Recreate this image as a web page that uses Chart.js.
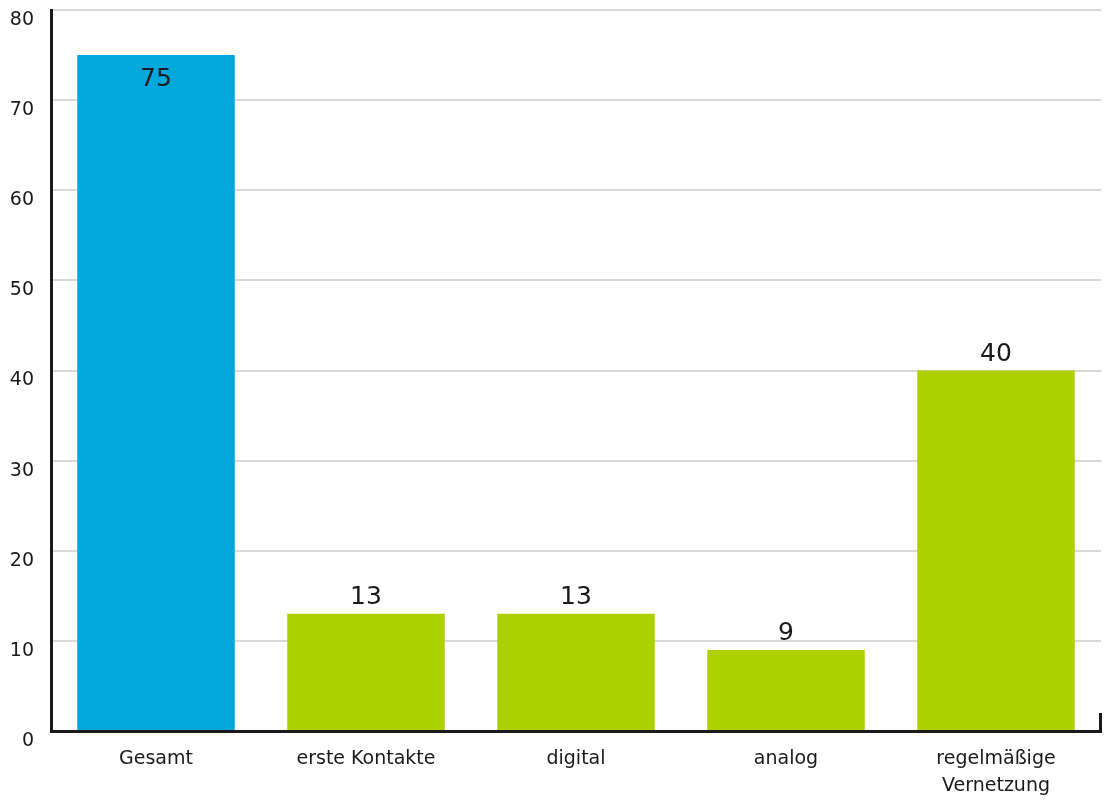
<!DOCTYPE html>
<html lang="de">
<head>
    <meta charset="UTF-8">
    <title>Vernetzung</title>
    <script src="https://cdn.jsdelivr.net/npm/chart.js@4.4.1/dist/chart.umd.min.js"></script>
    <style>
        html, body { margin: 0; padding: 0; background: #fff; }
        .wrap { width: 1106px; height: 804px; position: relative; }
    </style>
</head>
<body>
<div class="wrap">
    <canvas id="chart"></canvas>
</div>
<script>
    const categories = ['Gesamt', 'erste Kontakte', 'digital', 'analog', ['regelmäßige', 'Vernetzung']];
    const values = [75, 13, 13, 9, 40];
    const barColors = ['#00a8dc', '#acd000', '#acd000', '#acd000', '#acd000'];
    const yMax = 80;
    const yStep = 10;

    const textColor = '#1a1a1a';
    const axisFont = { family: 'DejaVu Sans', size: 19, lineHeight: 1.4 };

    // value labels above the bar, or inside when the bar almost reaches the top
    const valueLabels = {
        id: 'valueLabels',
        afterDatasetsDraw(chart) {
            const ctx = chart.ctx;
            const area = chart.chartArea;
            const meta = chart.getDatasetMeta(0);
            ctx.save();
            ctx.font = '25px "DejaVu Sans"';
            ctx.fillStyle = textColor;
            ctx.textAlign = 'center';
            ctx.textBaseline = 'alphabetic';
            meta.data.forEach((bar, i) => {
                if (bar.y - 60 < area.top) {
                    ctx.fillText(values[i], bar.x, bar.y + 31);
                } else {
                    ctx.fillText(values[i], bar.x, bar.y - 10);
                }
            });
            ctx.restore();
        }
    };

    // little closing tick at the right end of the x axis
    const endTick = {
        id: 'endTick',
        afterDraw(chart) {
            const ctx = chart.ctx;
            const a = chart.chartArea;
            ctx.save();
            ctx.strokeStyle = textColor;
            ctx.lineWidth = 3;
            ctx.beginPath();
            ctx.moveTo(a.right - 0.5, a.bottom);
            ctx.lineTo(a.right - 0.5, a.bottom - 18);
            ctx.stroke();
            ctx.restore();
        }
    };

    new Chart(document.getElementById('chart'), {
        type: 'bar',
        data: {
            labels: categories,
            datasets: [{
                data: values,
                backgroundColor: barColors,
                borderWidth: 0,
                barPercentage: 0.75,
                categoryPercentage: 1
            }]
        },
        options: {
            responsive: true,
            maintainAspectRatio: false,
            animation: false,
            layout: { padding: { top: 10, right: 5, left: 0, bottom: 0 } },
            plugins: {
                legend: { display: false },
                tooltip: { enabled: false }
            },
            scales: {
                x: {
                    afterFit(scale) {
                        scale.height = 73;
                        scale.paddingLeft = 0;
                        scale.paddingRight = 0;
                    },
                    grid: { display: false, drawTicks: false },
                    border: { display: true, color: textColor, width: 3 },
                    ticks: { color: textColor, font: axisFont, padding: 15, maxRotation: 0, autoSkip: false }
                },
                y: {
                    min: 0,
                    max: yMax,
                    afterFit(scale) {
                        scale.width = 51;
                        scale.paddingTop = 0;
                        scale.paddingBottom = 0;
                    },
                    grid: { color: '#d9d9d9', lineWidth: 2, drawTicks: false },
                    border: { display: true, color: textColor, width: 3 },
                    ticks: { stepSize: yStep, color: textColor, font: axisFont, padding: 17, labelOffset: 10 }
                }
            }
        },
        plugins: [valueLabels, endTick]
    });
</script>
</body>
</html>
